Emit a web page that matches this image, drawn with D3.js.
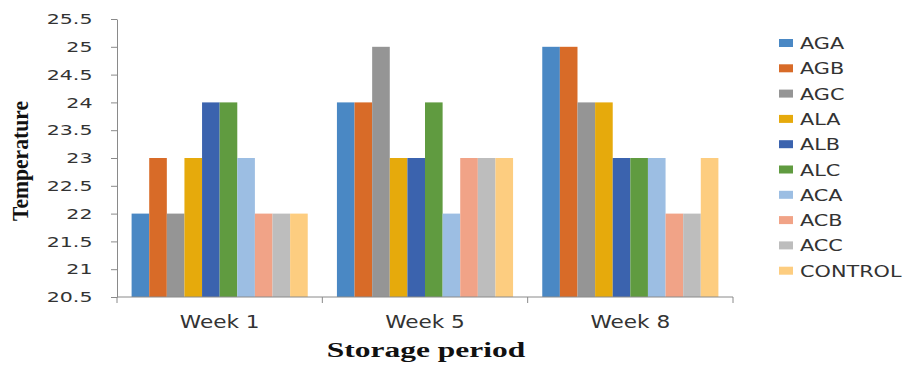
<!DOCTYPE html>
<html>
<head>
<meta charset="utf-8">
<script src="https://cdn.jsdelivr.net/npm/d3@7"></script>
<style>
  html, body { margin: 0; padding: 0; background: #ffffff; }
  svg { display: block; }
</style>
</head>
<body>
<svg id="chart" width="905" height="365"></svg>
<script>
// Storage periods (x categories)
const periods = ["Week 1", "Week 5", "Week 8"];

// Treatments (one bar per treatment in each period)
const treatments = ["AGA", "AGB", "AGC", "ALA", "ALB", "ALC", "ACA", "ACB", "ACC", "CONTROL"];

// Temperature per treatment, in period order
const AGA     = [22, 24, 25];
const AGB     = [23, 24, 25];
const AGC     = [22, 25, 24];
const ALA     = [23, 23, 24];
const ALB     = [24, 23, 23];
const ALC     = [24, 24, 23];
const ACA     = [23, 22, 23];
const ACB     = [22, 23, 22];
const ACC     = [22, 23, 22];
const CONTROL = [22, 23, 23];

// Y-axis tick labels
const yTicks = [20.5, 21, 21.5, 22, 22.5, 23, 23.5, 24, 24.5, 25, 25.5];

const seriesValues = { AGA, AGB, AGC, ALA, ALB, ALC, ACA, ACB, ACC, CONTROL };
const colors = {
  AGA: "#4a88c4", AGB: "#d86b28", AGC: "#959595", ALA: "#e6aa0c", ALB: "#3b63ae",
  ALC: "#609b40", ACA: "#9cbee3", ACB: "#f1a387", ACC: "#bdbdbd", CONTROL: "#fdcd80"
};

const svg = d3.select("#chart");
const plotLeft = 117, plotRight = 733, plotTop = 19, plotBottom = 297;

const x = d3.scaleBand().domain(periods).range([plotLeft, plotRight]).padding(0);
const inner = d3.scaleBand().domain(treatments)
  .range([14.6, x.bandwidth() - 14.6]).padding(0);
const y = d3.scaleLinear().domain([20.5, 25.5]).range([plotBottom, plotTop]);

// Bars
const rows = [];
periods.forEach((p, i) => treatments.forEach(t => rows.push({ p, t, v: seriesValues[t][i] })));
svg.append("g").selectAll("rect").data(rows).join("rect")
  .attr("x", d => x(d.p) + inner(d.t))
  .attr("y", d => y(d.v))
  .attr("width", inner.bandwidth())
  .attr("height", d => y(20.5) - y(d.v))
  .attr("fill", d => colors[d.t]);

const axisColor = "#8a8a8a";

// Y axis
const tickSX = 1.42;
const gy = svg.append("g").attr("transform", `translate(${plotLeft},0)`)
  .call(d3.axisLeft(y).tickValues(yTicks).tickSize(6).tickSizeOuter(0).tickFormat(d3.format("")));
gy.select(".domain").attr("stroke", axisColor);
gy.selectAll(".tick line").attr("stroke", axisColor);
gy.selectAll(".tick text")
  .attr("x", -24.5 / tickSX)
  .attr("transform", `scale(${tickSX},1)`)
  .attr("fill", "#333")
  .style("font-family", "'DejaVu Sans', Verdana, sans-serif")
  .style("font-size", "14.5px");

// X axis line and boundary ticks
const gx = svg.append("g");
gx.append("line").attr("x1", plotLeft).attr("x2", plotRight).attr("y1", plotBottom).attr("y2", plotBottom)
  .attr("stroke", axisColor);
const bounds = periods.map(p => x(p)).concat([x.range()[1]]);
gx.selectAll("line.tk").data(bounds).join("line").attr("class", "tk")
  .attr("x1", d => d).attr("x2", d => d).attr("y1", plotBottom).attr("y2", plotBottom + 6)
  .attr("stroke", axisColor);

// Horizontally stretched text helper
function label(parent, tx, ty, str, opts) {
  const g = parent.append("g").attr("transform", `translate(${tx},${ty})`);
  g.append("text")
    .attr("transform", `scale(${opts.sx},1)`)
    .attr("text-anchor", opts.anchor || "middle")
    .attr("fill", opts.fill || "#333")
    .style("font-family", opts.family)
    .style("font-size", opts.size + "px")
    .style("font-weight", opts.weight || "normal")
    .text(str);
  return g;
}

// Category labels
periods.forEach(p => {
  label(svg, x(p) + x.bandwidth() / 2, 328, p,
    { sx: 1.27, family: "'DejaVu Sans', Verdana, sans-serif", size: 17, fill: "#333" });
});

// Axis titles
label(svg, 426, 357, "Storage period",
  { sx: 1.5, family: "'Liberation Serif', 'Times New Roman', serif", size: 21, weight: "bold", fill: "#111" });

svg.append("g")
  .attr("transform", "translate(28,161) rotate(-90)")
  .append("text")
  .attr("transform", "scale(0.9,1)")
  .attr("text-anchor", "middle")
  .attr("fill", "#111")
  .style("font-family", "'Liberation Serif', 'Times New Roman', serif")
  .style("font-size", "24px")
  .style("font-weight", "bold")
  .text("Temperature");

// Legend
const legend = svg.append("g");
treatments.forEach((t, i) => {
  const cy = 43 + i * 25.3;
  legend.append("rect").attr("x", 779).attr("y", cy - 4).attr("width", 14).attr("height", 8)
    .attr("fill", colors[t]);
  label(legend, 800, cy + 6, t,
    { sx: 1.3, anchor: "start", family: "'DejaVu Sans', Verdana, sans-serif", size: 16, fill: "#333" });
});
</script>
</body>
</html>
